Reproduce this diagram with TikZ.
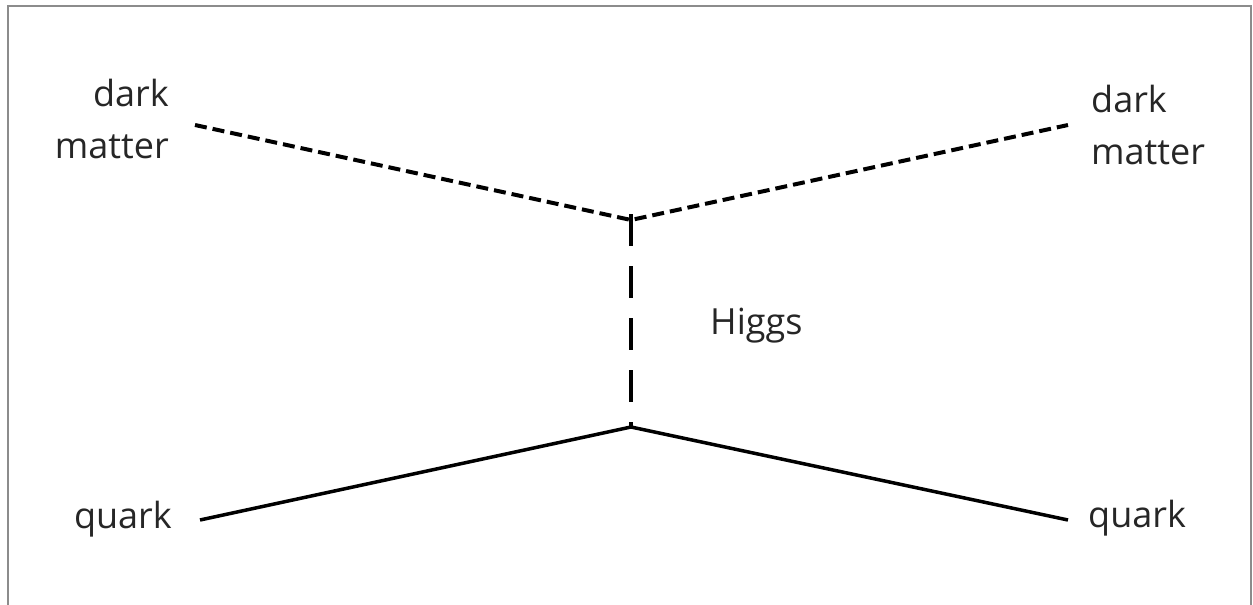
\documentclass[tikz,border=0pt]{standalone}
\usepackage{fontspec}
\setmainfont{Open Sans}
\begin{document}
\begin{tikzpicture}[x=1pt,y=-1pt,
  lbl/.style={font=\fontsize{36}{52}\selectfont, inner sep=0pt, text=black!85},
  dm/.style={line width=4pt, dash pattern=on 12pt off 6pt},
  higgsline/.style={line width=4pt, dash pattern=on 32pt off 20pt},
  quarkline/.style={line width=3.5pt},
  frame/.style={draw=black!45, line width=2pt}]
\useasboundingbox (0,0) rectangle (1253,605);
\draw[frame] (8,605) -- (8,6) -- (1251,6) -- (1251,605);
\coordinate (tl) at (195,125);
\coordinate (tr) at (1068,125);
\coordinate (vt) at (631,220);
\coordinate (vb) at (631,427);
\coordinate (bl) at (200,520);
\coordinate (br) at (1068,520);
\node[lbl, align=right, anchor=east] (dml) at (169,119) {dark\\matter};
\node[lbl, align=left, anchor=west] (dmr) at (1091,125) {dark\\matter};
\node[lbl, anchor=east] (ql) at (172,519) {quark};
\node[lbl, anchor=west] (qr) at (1088,518) {quark};
\node[lbl, anchor=west] (h) at (710,326) {Higgs};
\draw[dm] (tl) -- (vt) -- (tr);
\draw[higgsline] ([yshift=6pt]vt) -- ([yshift=-2pt]vb);
\draw[quarkline, line join=miter] (bl) -- (vb) -- (br);
\end{tikzpicture}
\end{document}
